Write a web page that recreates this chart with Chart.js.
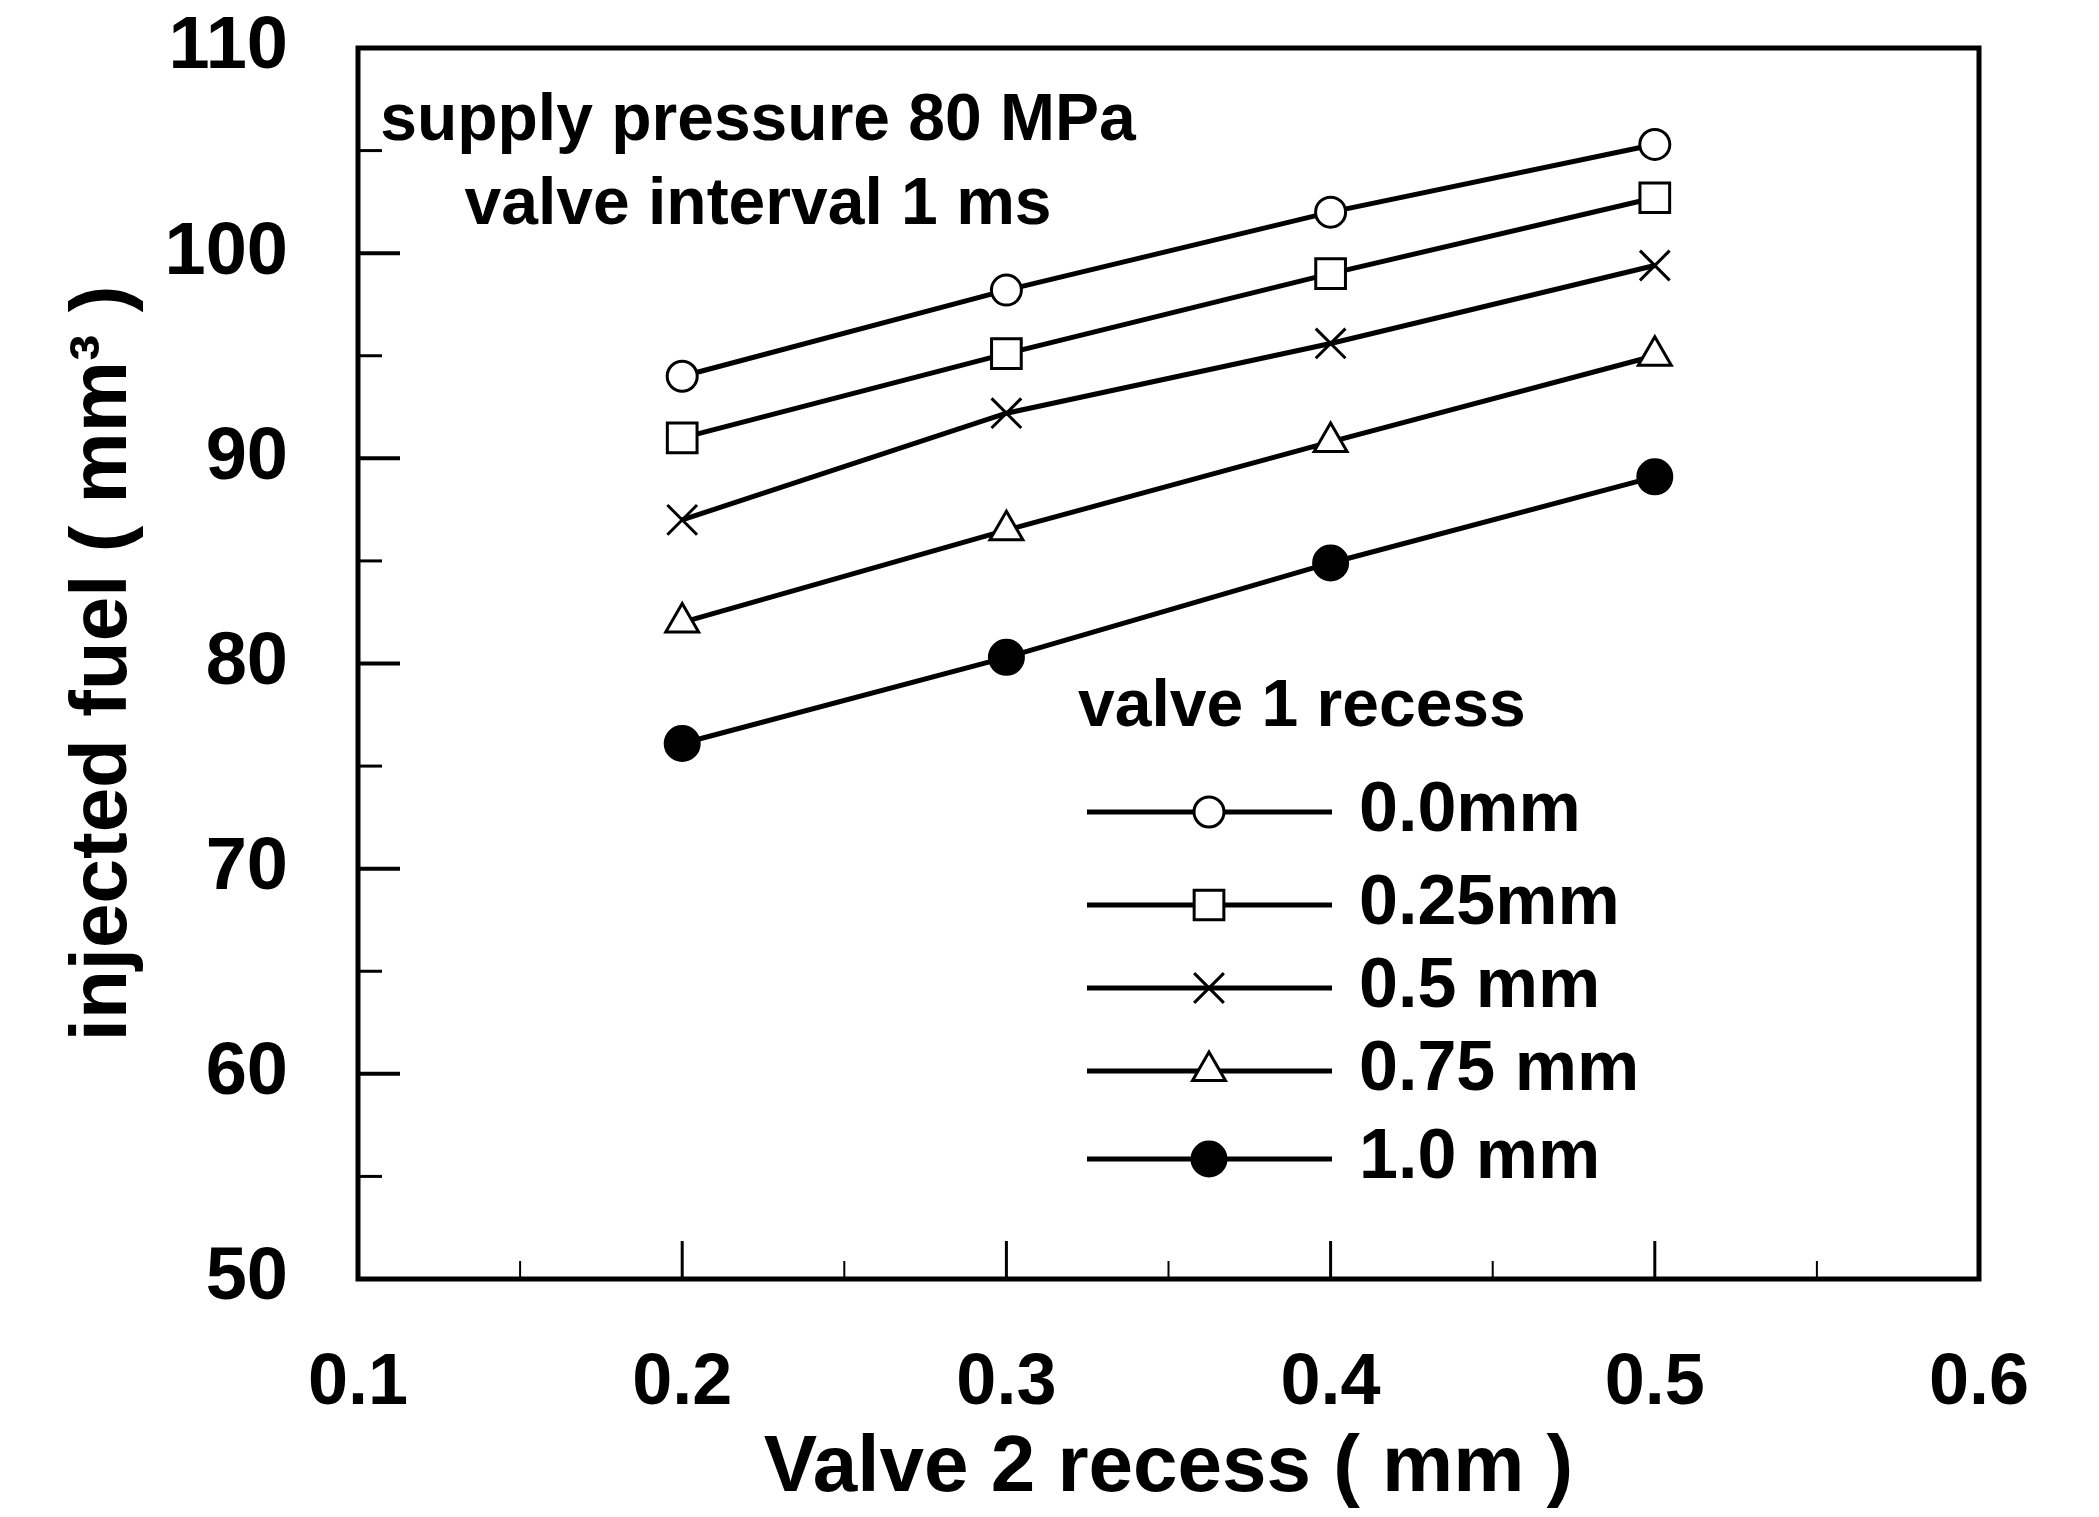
<!DOCTYPE html>
<html lang="en">

<head>
    <meta charset="UTF-8">
    <title>Injected fuel vs valve 2 recess</title>
    <script src="https://cdn.jsdelivr.net/npm/chart.js"></script>
    <style>
        html, body {
            margin: 0;
            padding: 0;
            background: #fff;
        }

        #wrap {
            width: 2099px;
            height: 1517px;
        }
    </style>
</head>

<body>
    <div id="wrap"><canvas id="myChart" width="2099" height="1517"></canvas></div>

    <script>
        // Values (valve 1 recess series)
        const valve2Recess = [0.2, 0.3, 0.4, 0.5];
        const fuel_00 = [94.0, 98.2, 102.0, 105.3];
        const fuel_025 = [91.0, 95.1, 99.0, 102.7];
        const fuel_05 = [87.0, 92.2, 95.6, 99.4];
        const fuel_075 = [82.0, 86.5, 90.8, 95.0];
        const fuel_10 = [76.1, 80.3, 84.9, 89.1];
        const seriesLabels = ['0.0mm', '0.25mm', '0.5 mm', '0.75 mm', '1.0 mm'];

        // Axis ticks
        const xTicks = [0.1, 0.2, 0.3, 0.4, 0.5, 0.6];
        const xMinorTicks = [0.15, 0.25, 0.35, 0.45, 0.55];
        const yTicks = [50, 60, 70, 80, 90, 100, 110];
        const yMinorTicks = [55, 65, 75, 85, 95, 105];

        const FONT = '"Liberation Sans", Arial, Helvetica, sans-serif';

        // marker look for each series
        const markerStyles = [
            { pointStyle: 'circle', radius: 15, fill: '#fff' },
            { pointStyle: 'rect', radius: 21, fill: '#fff' },
            { pointStyle: 'crossRot', radius: 21, fill: '#fff' },
            { pointStyle: 'triangle', radius: 19, fill: '#fff' },
            { pointStyle: 'circle', radius: 17, fill: '#000' }
        ];

        const allSeries = [fuel_00, fuel_025, fuel_05, fuel_075, fuel_10];

        const datasets = allSeries.map((vals, i) => ({
            label: seriesLabels[i],
            data: valve2Recess.map((x, j) => ({ x: x, y: vals[j] })),
            borderColor: '#000',
            borderWidth: 5,
            backgroundColor: markerStyles[i].fill,
            pointStyle: markerStyles[i].pointStyle,
            pointRadius: markerStyles[i].radius,
            pointBorderWidth: 3,
            pointBorderColor: '#000',
            pointBackgroundColor: markerStyles[i].fill,
            tension: 0
        }));

        // box around plot + inward tick marks
        const framePlugin = {
            id: 'frame',
            afterDraw(chart) {
                const { ctx, chartArea: a, scales } = chart;
                ctx.save();
                ctx.strokeStyle = '#000';
                ctx.lineWidth = 5;
                ctx.strokeRect(a.left, a.top, a.right - a.left, a.bottom - a.top);

                // y ticks on the left axis
                ctx.lineWidth = 4;
                yTicks.forEach(v => {
                    const y = scales.y.getPixelForValue(v);
                    ctx.beginPath();
                    ctx.moveTo(a.left, y);
                    ctx.lineTo(a.left + 42, y);
                    ctx.stroke();
                });
                ctx.lineWidth = 3;
                yMinorTicks.forEach(v => {
                    const y = scales.y.getPixelForValue(v);
                    ctx.beginPath();
                    ctx.moveTo(a.left, y);
                    ctx.lineTo(a.left + 24, y);
                    ctx.stroke();
                });

                // x ticks on the bottom axis
                ctx.lineWidth = 3;
                xTicks.forEach(v => {
                    const x = scales.x.getPixelForValue(v);
                    ctx.beginPath();
                    ctx.moveTo(x, a.bottom);
                    ctx.lineTo(x, a.bottom - 38);
                    ctx.stroke();
                });
                ctx.lineWidth = 2;
                xMinorTicks.forEach(v => {
                    const x = scales.x.getPixelForValue(v);
                    ctx.beginPath();
                    ctx.moveTo(x, a.bottom);
                    ctx.lineTo(x, a.bottom - 18);
                    ctx.stroke();
                });
                ctx.restore();
            }
        };

        // annotation text and legend (line with marker in the middle)
        const legendPlugin = {
            id: 'legendBox',
            afterDraw(chart) {
                const ctx = chart.ctx;
                ctx.save();
                ctx.fillStyle = '#000';
                ctx.font = 'bold 66px ' + FONT;
                ctx.textBaseline = 'alphabetic';
                ctx.textAlign = 'center';
                ctx.fillText('supply pressure 80 MPa', 758, 140);
                ctx.fillText('valve interval 1 ms', 758, 224);
                ctx.textAlign = 'left';
                ctx.fillText('valve 1 recess', 1078, 726);

                const rowY = [812, 905, 988, 1071, 1159];
                const lineX1 = 1087, lineX2 = 1332, markX = 1209, textX = 1359;
                ctx.font = 'bold 70px ' + FONT;
                ctx.textBaseline = 'middle';
                chart.data.datasets.forEach((ds, i) => {
                    const y = rowY[i];
                    ctx.strokeStyle = '#000';
                    ctx.lineWidth = 5;
                    ctx.beginPath();
                    ctx.moveTo(lineX1, y);
                    ctx.lineTo(lineX2, y);
                    ctx.stroke();

                    ctx.lineWidth = ds.pointBorderWidth;
                    ctx.fillStyle = ds.pointBackgroundColor;
                    ctx.strokeStyle = '#000';
                    if (Chart.helpers && Chart.helpers.drawPoint) {
                        Chart.helpers.drawPoint(ctx, {
                            pointStyle: ds.pointStyle,
                            rotation: 0,
                            radius: ds.pointRadius,
                            borderWidth: ds.pointBorderWidth
                        }, markX, y);
                    } else {
                        ctx.beginPath();
                        ctx.arc(markX, y, ds.pointRadius, 0, Math.PI * 2);
                        ctx.fill();
                        ctx.stroke();
                    }

                    ctx.fillStyle = '#000';
                    ctx.fillText(ds.label, textX, y);
                });
                ctx.restore();
            }
        };

        const ctx = document.getElementById('myChart');
        let myChart = new Chart(ctx, {
            type: 'line',
            data: { datasets: datasets },
            options: {
                responsive: false,
                animation: false,
                devicePixelRatio: 1,
                layout: {
                    padding: { top: 48, right: 120, bottom: 0, left: 0 }
                },
                plugins: {
                    legend: { display: false },
                    tooltip: { enabled: false }
                },
                scales: {
                    x: {
                        type: 'linear',
                        min: 0.1,
                        max: 0.6,
                        afterBuildTicks: (scale) => {
                            scale.ticks = xTicks.map(v => ({ value: v }));
                        },
                        afterFit: (scale) => {
                            scale.height = 238;
                            scale.paddingLeft = 0;
                            scale.paddingRight = 0;
                        },
                        grid: { display: false, drawTicks: false },
                        border: { display: false },
                        ticks: {
                            color: '#000',
                            padding: 62,
                            maxRotation: 0,
                            font: { family: FONT, size: 72, weight: 'bold' },
                            callback: (v) => v.toFixed(1)
                        },
                        title: {
                            display: true,
                            text: 'Valve 2 recess ( mm )',
                            color: '#000',
                            padding: { top: 0, bottom: 0 },
                            font: { family: FONT, size: 80, weight: 'bold' }
                        }
                    },
                    y: {
                        type: 'linear',
                        min: 50,
                        max: 110,
                        afterBuildTicks: (scale) => {
                            scale.ticks = yTicks.map(v => ({ value: v }));
                        },
                        afterFit: (scale) => {
                            scale.width = 358;
                            scale.paddingTop = 0;
                            scale.paddingBottom = 0;
                        },
                        grid: { display: false, drawTicks: false },
                        border: { display: false },
                        ticks: {
                            color: '#000',
                            padding: 70,
                            font: { family: FONT, size: 74, weight: 'bold' },
                            callback: (v) => String(v)
                        },
                        title: {
                            display: true,
                            text: 'injected fuel ( mm³ )',
                            color: '#000',
                            padding: { top: 56, bottom: 0 },
                            font: { family: FONT, size: 80, weight: 'bold' }
                        }
                    }
                }
            },
            plugins: [framePlugin, legendPlugin]
        });
    </script>
</body>

</html>
